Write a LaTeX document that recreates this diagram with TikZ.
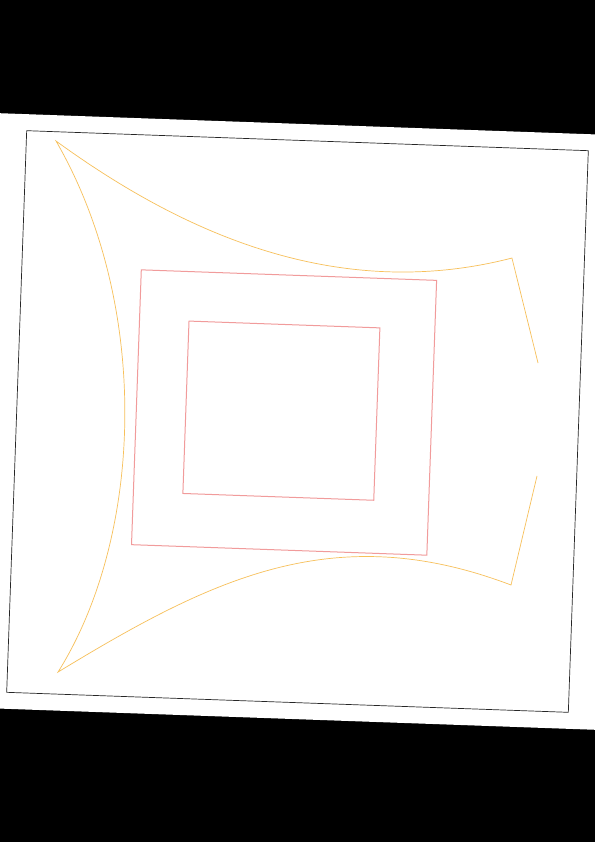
\documentclass[tikz,border=0pt]{standalone}
\usepackage{tikz}
\definecolor{squarered}{RGB}{241,155,155}
\definecolor{curveorange}{RGB}{247,192,90}
\begin{document}
\begin{tikzpicture}[x=1pt,y=-1pt,
  borderline/.style={black!85,line width=0.7pt},
  squareline/.style={squarered,line width=1pt},
  curveline/.style={curveorange,line width=0.7pt}]
 \useasboundingbox (0,0) rectangle (595,842);
 \fill[black] (0,0) rectangle (595,842);
 \begin{scope}[shift={(297.5,421.5)},rotate=-2.04]
  \fill[white] (-340,-297.5) rectangle (340,297.5);
  \draw[borderline] (-281,-281) rectangle (281,281);
  \draw[squareline] (-161.5,-146) rectangle (134,129);
  \draw[squareline] (-112,-96.5) rectangle (79,76);
  \draw[curveline] (238.3,-67) -- (208.5,-171)
   .. controls (30,-118) and (-130,-190) .. (-251.3,-271.7)
   .. controls (-150,-110) and (-150,120) .. (-230.4,258.9)
   .. controls (-80,160) and (40,95) .. (219.2,155.8)
   -- (241.3,45.9);
 \end{scope}
\end{tikzpicture}
\end{document}
